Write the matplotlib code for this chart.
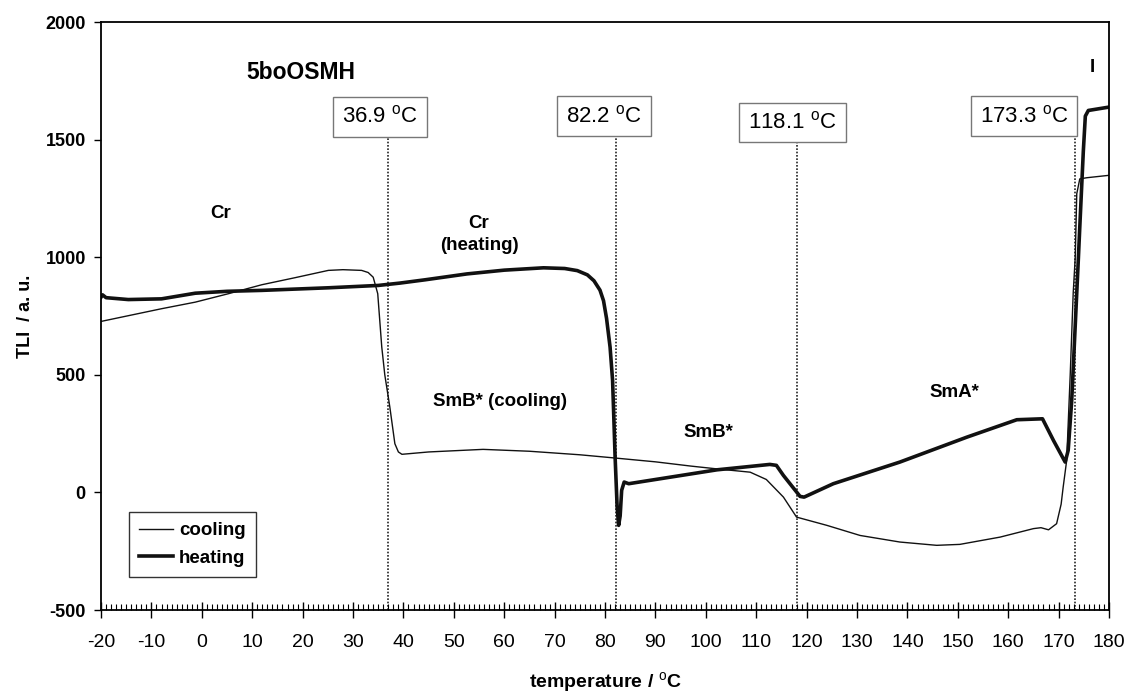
import matplotlib
matplotlib.use('Agg')
import matplotlib.pyplot as plt
from matplotlib.ticker import MultipleLocator

plt.rcParams['font.family'] = ['Liberation Sans', 'DejaVu Sans']
plt.rcParams['mathtext.fontset'] = 'custom'
plt.rcParams['mathtext.rm'] = 'Liberation Sans'
plt.rcParams['mathtext.bf'] = 'Liberation Sans:bold'
plt.rcParams['axes.unicode_minus'] = False

# cooling run (thin line)
cool_t = [-20, -8, -1.3, 5.3, 11.9, 18.5, 25.1, 28, 31.7, 33, 34, 34.9, 35.7, 36.3,
          37.3, 38.3, 39.0, 39.7, 45, 55.8, 65, 75, 81.6, 90, 97, 102.2, 108.8, 112,
          115.4, 118, 124, 130.6, 138.5, 145.8, 150.4, 158.4, 165, 166.5, 168, 169.6,
          170.5, 170.9, 171.6, 172.3, 172.9, 173.3, 173.6, 174.2, 175.6, 179.9]
cool_tli = [727, 781, 809, 845, 883, 913, 944, 947, 944, 935, 915, 845, 618, 500,
            363, 207, 172, 162, 172, 183, 175, 160, 147, 130, 112, 100, 86, 55,
            -20, -105, -140, -183, -211, -225, -221, -190, -154, -150, -159, -133,
            -50, 22, 136, 500, 850, 1000, 1270, 1333, 1338, 1348]

# heating run (thick line)
heat_t = [-20, -19.7, -19, -14.6, -8, -1.3, 5, 11.9, 25.1, 35, 39.3, 44.3, 52.6, 60,
          67.8, 72, 74.5, 76.5, 77.8, 79, 79.7, 80.3, 81, 81.5, 82.0, 82.4, 82.7,
          83.0, 83.3, 83.8, 84.7, 93, 102.2, 112.7, 114, 115.4, 118.7, 119.5, 125.3,
          138.5, 151.8, 161.7, 166.8, 169, 171.3, 171.9, 172.6, 173.9, 174.2, 174.9,
          175.3, 175.9, 179.9]
heat_tli = [830, 840, 828, 820, 823, 847, 855, 859, 870, 880, 890, 904, 929, 945,
            955, 952, 943, 925, 900, 860, 815, 740, 618, 476, 150, -60, -140,
            -100, 9, 44, 37, 65, 96, 119, 115, 72, -17, -20, 37,
            129, 235, 309, 313, 220, 129, 179, 391, 986, 1128, 1450,
            1600, 1624, 1638]

# transition temperatures
trans_t = [36.9, 82.2, 118.1, 173.3]
trans_labels = ['36.9', '82.2', '118.1', '173.3']
box_x = [35.4, 79.8, 117.2, 163.1]
box_y = [1597, 1599, 1573, 1599]
line_top = [1518, 1518, 1492, 1518]

# phase labels
phase_text = ['Cr', 'Cr\n(heating)', 'SmB* (cooling)', 'SmB*', 'SmA*', 'I']
phase_x = [3.7, 55.0, 59.2, 100.6, 149.4, 176.6]
phase_y = [1185, 1098, 387, 255, 425, 1807]

fig = plt.figure(figsize=(11.29, 6.95), dpi=100)
ax = fig.add_axes([0.0895, 0.1223, 0.8928, 0.846])

ax.plot(cool_t, cool_tli, color='#111111', linewidth=1.0, label='cooling')
ax.plot(heat_t, heat_tli, color='#111111', linewidth=2.6, label='heating')

# dotted transition lines with boxed labels
for t, lab, bx, by, top in zip(trans_t, trans_labels, box_x, box_y, line_top):
    ax.plot([t, t], [-500, top], color='#222222', linewidth=1.2,
            linestyle=(0, (1, 1)), zorder=1)
    ax.text(bx, by, lab + r' $^{\rm o}$C', fontsize=16, ha='center', va='center',
            bbox=dict(boxstyle='square,pad=0.4', facecolor='white',
                      edgecolor='#777777', linewidth=1))

for txt, px, py in zip(phase_text, phase_x, phase_y):
    ax.text(px, py, txt, fontsize=13.5, fontweight='bold', ha='center',
            va='center', linespacing=1.4)

ax.text(19.7, 1786, '5boOSMH', fontsize=16.5, fontweight='bold',
        ha='center', va='center')

ax.set_xlim(-20, 180)
ax.set_ylim(-500, 2000)
ax.xaxis.set_major_locator(MultipleLocator(10))
ax.xaxis.set_minor_locator(MultipleLocator(1))
ax.yaxis.set_major_locator(MultipleLocator(500))

ax.tick_params(axis='x', which='major', direction='inout', length=11, width=1,
               labelsize=14, pad=12)
ax.tick_params(axis='x', which='minor', direction='in', length=4, width=0.8)
ax.tick_params(axis='y', which='major', direction='out', length=5, width=1,
               labelsize=13, pad=6)
for lbl in ax.get_yticklabels():
    lbl.set_fontweight('bold')
for sp in ax.spines.values():
    sp.set_linewidth(1.3)

ax.set_xlabel(r'temperature / $^{\rm o}$C', fontsize=14, fontweight='bold',
              labelpad=14)
ax.set_ylabel('TLI  / a. u.', fontsize=13, fontweight='bold', labelpad=8)

leg = ax.legend(loc='lower left', bbox_to_anchor=(0.0278, 0.056),
                borderaxespad=0, fancybox=False, edgecolor='black',
                prop={'weight': 'bold', 'size': 13.5}, handlelength=1.8,
                handletextpad=0.3, labelspacing=0.55, borderpad=0.55)
leg.get_frame().set_linewidth(1.0)

plt.savefig('out.png', dpi=100)
